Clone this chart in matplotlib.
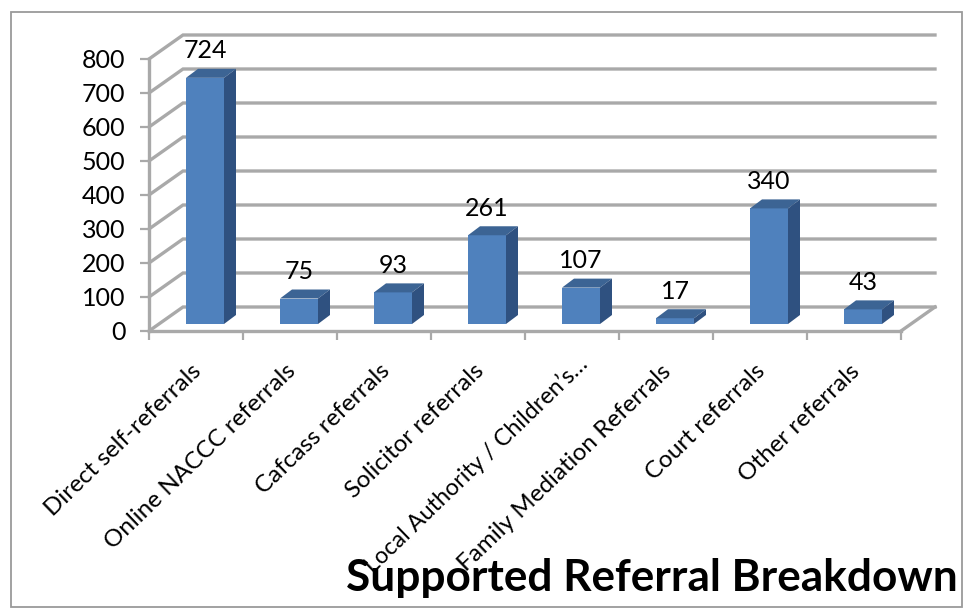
import matplotlib
matplotlib.use('Agg')
import matplotlib.pyplot as plt
from matplotlib.patches import Polygon, Rectangle
from matplotlib.transforms import ScaledTranslation

categorias = ['Direct self-referrals', 'Online NACCC referrals', 'Cafcass referrals',
              'Solicitor referrals', 'Local Authority / Children\u2019s\u2026',
              'Family Mediation Referrals', 'Court referrals', 'Other referrals']
valores = [724, 75, 93, 261, 107, 17, 340, 43]
ticks_y = [0, 100, 200, 300, 400, 500, 600, 700, 800]
titulo = 'Supported Referral Breakdown'

W, H = 963, 611
CINZA = '#a9a9a9'
px_x = 752 / 8      # pixels por categoria
px_y = 272 / 800    # pixels por unidade

plt.rcParams['font.family'] = ['Lato', 'DejaVu Sans']

fig = plt.figure(figsize=(W / 100, H / 100), dpi=100)
ax = fig.add_axes([149 / W, 1 - 331 / H, 752 / W, 272 / H])
ax.set_xlim(0, 8)
ax.set_ylim(0, 800)
ax.patch.set_visible(False)

# Profundidade do piso e das barras, em unidades de dados
prof_x, prof_y = 34 / px_x, 24 / px_y
barra_x, barra_y = 12 / px_x, 9 / px_y
inicio = 37 / px_x
larg = 38 / px_x
base = 7 / px_y

# Moldura da imagem
fig.add_artist(Rectangle((10.5 / W, 1 - 607 / H), 951 / W, 595 / H, transform=fig.transFigure,
                         fill=False, ec='#9a9a9a', lw=1.3))

# Grade em perspectiva
for v in ticks_y:
    ax.plot([0, prof_x, 8 + prof_x], [v, v + prof_y, v + prof_y], color=CINZA, lw=2.4,
            clip_on=False, zorder=1, solid_joinstyle='miter')
ax.plot([8, 8 + prof_x], [0, prof_y], color=CINZA, lw=2.4, clip_on=False, zorder=1)

for s in ['top', 'right']:
    ax.spines[s].set_visible(False)
for s in ['left', 'bottom']:
    ax.spines[s].set_color(CINZA)
    ax.spines[s].set_linewidth(2.4)
    ax.spines[s].set_zorder(2)

ax.set_yticks(ticks_y)
ax.tick_params(axis='y', length=6.5, width=1.6, color=CINZA, labelsize=18, pad=10.5, labelcolor='black')
ax.set_xticks(range(9))
ax.set_xticklabels([])
ax.set_xticks([i + 0.5 for i in range(8)], minor=True)
rotulos = ax.set_xticklabels(categorias, minor=True, rotation=44, ha='right', rotation_mode='anchor',
                             fontsize=17.5, color='black')
ax.tick_params(axis='x', which='major', length=6.5, width=1.6, color=CINZA)
ax.tick_params(axis='x', which='minor', length=0, pad=19)

# Ajuste fino dos rotulos (o da categoria 4 fica mais a direita)
for i, r in enumerate(rotulos):
    dx = 5 if i == 4 else -5
    dy = 5 if i == 4 else -3
    if i == 4:
        r.set_fontsize(16.8)
    r.set_transform(r.get_transform() + ScaledTranslation(dx / 100, dy / 100, fig.dpi_scale_trans))

# Barras 3D
for i, v in enumerate(valores):
    x0 = i + inicio
    x1 = x0 + larg
    y0 = base
    y1 = base + v
    frente = Polygon([(x0, y0), (x1, y0), (x1, y1), (x0, y1)], fc='#4f81bd', ec='none', zorder=5, clip_on=False)
    topo = Polygon([(x0, y1), (x1, y1), (x1 + barra_x, y1 + barra_y), (x0 + barra_x, y1 + barra_y)],
                   fc='#3c6494', ec='none', zorder=5, clip_on=False)
    lado = Polygon([(x1, y0), (x1 + barra_x, y0 + barra_y), (x1 + barra_x, y1 + barra_y), (x1, y1)],
                   fc='#2f5180', ec='none', zorder=5, clip_on=False)
    ax.add_patch(frente)
    ax.add_patch(topo)
    ax.add_patch(lado)
    ax.annotate(str(v), (x0 + larg / 2, y1 + barra_y), xytext=(0, 13), textcoords='offset points',
                ha='center', va='center', fontsize=18, color='black', zorder=6, annotation_clip=False)

fig.text(958 / W, 1 - 578 / H, titulo, ha='right', va='center', fontsize=31.8, fontweight='bold', color='black')

fig.savefig('out.png', dpi=100)
